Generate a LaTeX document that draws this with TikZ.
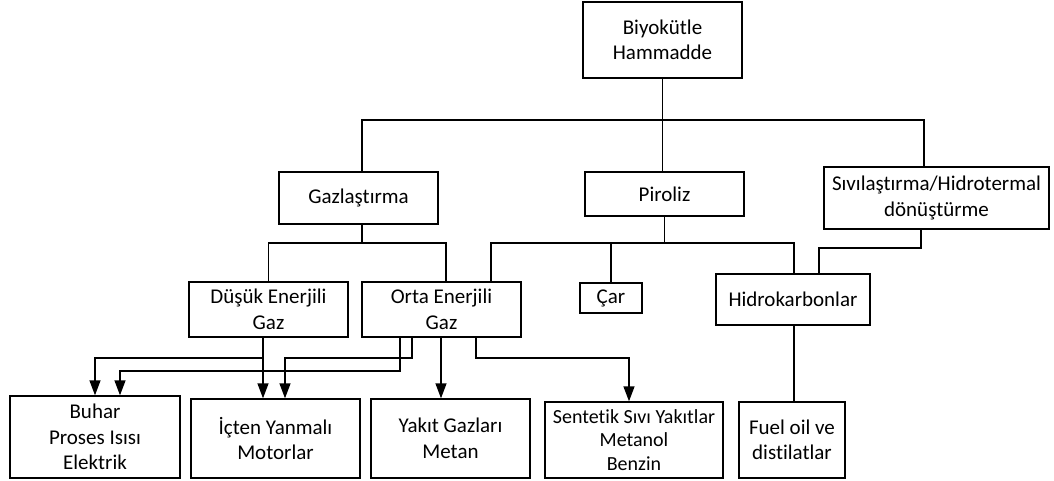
\documentclass[tikz,border=0pt]{standalone}
\usepackage{fontspec}
\setmainfont{Carlito}[Ligatures={NoCommon}]
\usetikzlibrary{arrows.meta}
\tikzset{
  box/.style={draw, line width=1.4pt, inner sep=0pt, align=center,
    font=\fontsize{21}{25.5}\selectfont},
  smallbox/.style={box, font=\fontsize{20}{23.5}\selectfont},
  link/.style={line width=1.4pt},
  arr/.style={link, -{Triangle[length=15pt,width=11pt]}}
}
\begin{document}
\begin{tikzpicture}[x=1pt, y=-1pt]
\useasboundingbox (0,0) rectangle (1054,481);

% process boxes
\node[box, minimum width=159, minimum height=76] (bio) at (662.5,40) {Biyokütle\\Hammadde};
\node[box, minimum width=159, minimum height=52] (gaz) at (358.5,198) {Gazlaştırma};
\node[box, minimum width=159, minimum height=44] (pir) at (664.5,194) {Piroliz};
\node[box, minimum width=225, minimum height=62] (siv) at (936.5,198) {Sıvılaştırma/Hidrotermal\\dönüştürme};
\node[box, minimum width=159, minimum height=55] (dus) at (268.5,309.5) {Düşük Enerjili\\Gaz};
\node[box, minimum width=159, minimum height=55] (orta) at (441.5,309.5) {Orta Enerjili\\Gaz};
\node[box, minimum width=62, minimum height=30] (car) at (611,298) {Çar};
\node[box, minimum width=154, minimum height=51] (hid) at (793,299.5) {Hidrokarbonlar};

% products
\node[box, minimum width=170, minimum height=82] (buhar) at (95,437) {Buhar\\Proses Isısı\\Elektrik};
\node[box, minimum width=169, minimum height=79] (icten) at (275.5,438.5) {İçten Yanmalı\\Motorlar};
\node[box, minimum width=159, minimum height=79] (yakit) at (450.5,438.5) {Yakıt Gazları\\Metan};
\node[smallbox, minimum width=178, minimum height=76] (sent) at (634,440) {Sentetik Sıvı Yakıtlar\\Metanol\\Benzin};
\node[box, minimum width=106, minimum height=76] (fuel) at (792,440) {Fuel oil ve\\distilatlar};

% bends of the tree lines
\coordinate (bL) at (362,120);
\coordinate (bR) at (924,120);
\coordinate (gL) at (268,243);
\coordinate (gR) at (446,243);
\coordinate (pL) at (491,243);
\coordinate (pR) at (794,243);
\coordinate (s1) at (921,248);
\coordinate (s2) at (819,248);

% first level
\draw[link] (bio.south) -- (pir.north -| bio.south);
\draw[link] (gaz.north -| bL) |- (bR) -- (siv.north -| bR);

% gasification branch
\draw[link] (gaz.south -| bL) -- (bL |- gL);
\draw[link] (dus.north) |- (gR) -- (orta.north -| gR);

% pyrolysis branch
\draw[link] (pir.south) -- (pir.south |- pL);
\draw[link] (orta.north -| pL) |- (pR) -- (hid.north -| pR);
\draw[link] (car.north) -- (car.north |- pL);

% liquefaction branch
\draw[link] (siv.south -| s1) -- (s1) -- (s2) -- (hid.north -| s2);
\draw[link] (hid.south -| pR) -- (fuel.north -| pR);

% gas utilisation arrows
\coordinate (d1) at (263,358);
\coordinate (d2) at (95,358);
\coordinate (o1) at (412,358);
\coordinate (o2) at (285,358);
\coordinate (o3) at (400,371);
\coordinate (o4) at (120,371);
\coordinate (o5) at (441,358);
\coordinate (o6) at (476,358);
\coordinate (o7) at (629,358);

\draw[arr] (dus.south -| d1) -- (icten.north -| d1);
\draw[arr] (dus.south -| d1) |- (d2) -- (buhar.north -| d2);
\draw[arr] (orta.south -| o1) |- (o2) -- (icten.north -| o2);
\draw[arr] (orta.south -| o3) |- (o4) -- (buhar.north -| o4);
\draw[arr] (orta.south -| o5) -- (yakit.north -| o5);
\draw[arr] (orta.south -| o6) |- (o7) -- (sent.north -| o7);
\end{tikzpicture}
\end{document}
